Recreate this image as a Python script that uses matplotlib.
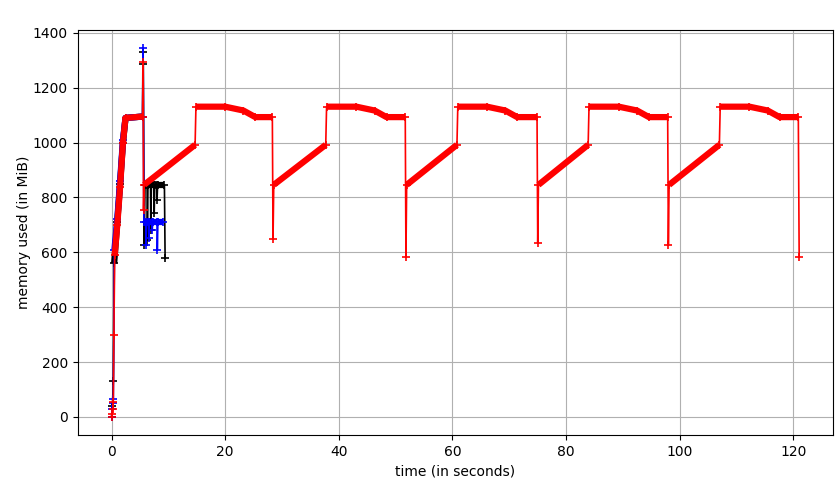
import matplotlib
matplotlib.use("Agg")
import matplotlib.pyplot as plt

# main process (red)
red_t = [0.0, 0.1, 0.2, 0.3, 0.4, 0.55, 1.0, 1.5, 2.0, 2.45, 5.45, 5.55, 5.62, 5.72,
         14.7, 14.85, 20.0, 23.2, 25.3, 28.3, 28.42, 28.55,
         37.7, 37.85, 43.1, 46.3, 48.4, 51.7, 51.82, 51.95,
         60.8, 60.95, 66.1, 69.3, 71.4, 74.9, 75.02, 75.15,
         83.9, 84.05, 89.3, 92.5, 94.6, 97.9, 98.02, 98.15,
         107.0, 107.15, 112.3, 115.5, 117.6, 120.9, 121.05]
red_mem = [0, 10, 30, 55, 300, 590, 700, 840, 1000, 1090, 1095, 1295, 755, 846,
           992, 1131, 1131, 1117, 1093, 1093, 648, 846,
           992, 1131, 1131, 1117, 1093, 1093, 583, 846,
           992, 1131, 1131, 1117, 1093, 1093, 634, 846,
           992, 1131, 1131, 1117, 1093, 1093, 628, 846,
           992, 1131, 1131, 1117, 1093, 1093, 582]

# child process 1 (blue)
blue_t = [0.0, 0.1, 0.2, 0.3, 0.5, 1.0, 1.5, 2.0, 2.45, 5.45, 5.55, 5.68,
          6.0, 6.05, 6.15, 6.5, 6.55, 6.65, 7.1, 7.15, 7.25, 8.0, 8.05, 8.15, 9.1]
blue_mem = [0, 30, 50, 65, 610, 720, 860, 1010, 1090, 1095, 1345, 710,
            710, 627, 710, 710, 653, 710, 710, 680, 710, 710, 609, 710, 710]

# child process 2 (black)
black_t = [0.0, 0.15, 0.3, 0.45, 1.0, 1.5, 2.0, 2.45, 5.45, 5.52, 5.58, 5.75, 5.88,
           6.25, 6.3, 6.4, 6.85, 6.9, 7.0, 7.45, 7.5, 7.6, 7.95, 8.0, 8.1, 9.3, 9.42]
black_mem = [0, 40, 130, 560, 710, 850, 1000, 1090, 1095, 1330, 1285, 627, 844,
             844, 645, 844, 844, 682, 844, 844, 744, 844, 844, 790, 844, 844, 580]


def draw(ax, t, m, color):
    ax.plot(t, m, "+-", color=color, lw=1.2, ms=6, mew=1.2)
    # dense sampling shows up as a thick band of markers:
    # draw runs of slow segments as one thick polyline
    run = []
    for i in range(len(t) - 1):
        if t[i + 1] - t[i] > 0.3:
            if not run:
                run = [i]
            run.append(i + 1)
        else:
            if run:
                ax.plot([t[j] for j in run], [m[j] for j in run], color=color,
                        lw=4.5, solid_capstyle="butt", solid_joinstyle="round")
            run = []
    if run:
        ax.plot([t[j] for j in run], [m[j] for j in run], color=color,
                lw=4.5, solid_capstyle="butt", solid_joinstyle="round")


fig = plt.figure(figsize=(8.38, 4.82), dpi=100)
ax = fig.add_axes([0.0925, 0.0975, 0.9015, 0.8405])

draw(ax, black_t, black_mem, "k")
draw(ax, blue_t, blue_mem, "b")
draw(ax, red_t, red_mem, "r")

ax.set_xlim(-6.0, 127.0)
ax.set_ylim(-66, 1411)
ax.grid(True)
ax.set_xlabel("time (in seconds)")
ax.set_ylabel("memory used (in MiB)", labelpad=1.5)

fig.savefig("out.png", dpi=100)
